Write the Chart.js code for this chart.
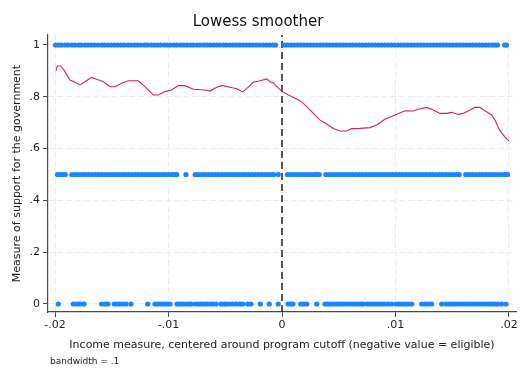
<!DOCTYPE html>
<html>
<head>
<meta charset="utf-8">
<script src="https://cdn.jsdelivr.net/npm/chart.js@4.4.1/dist/chart.umd.min.js"></script>
<style>
  html, body { margin: 0; padding: 0; background: #fff; }
  #wrap { width: 528px; height: 384px; position: relative; }
</style>
</head>
<body>
<div id="wrap"><canvas id="lowessChart"></canvas></div>
<script>
// --- data ---
const X_TICKS = [-0.02, -0.01, 0, 0.01, 0.02];
const Y_TICKS = [0, 0.2, 0.4, 0.6, 0.8, 1];
const X_RANGE = [-0.020617, 0.020617];
const Y_RANGE = [-0.0309, 1.0386];
const CUTOFF_X = [0, 0];

// outcome = 1
const supportX1 = [
  -0.01995, -0.01968, -0.01941, -0.01910, -0.01884, -0.01852, -0.01825, -0.01793, -0.01768, -0.01736,
  -0.01709, -0.01680, -0.01651, -0.01622, -0.01590, -0.01564, -0.01533, -0.01505, -0.01474, -0.01447,
  -0.01418, -0.01389, -0.01357, -0.01331, -0.01300, -0.01272, -0.01243, -0.01212, -0.01186, -0.01154,
  -0.01127, -0.01098, -0.01069, -0.01038, -0.01011, -0.00982, -0.00951, -0.00925, -0.00894, -0.00866,
  -0.00837, -0.00806, -0.00780, -0.00749, -0.00721, -0.00690, -0.00663, -0.00634, -0.00604, -0.00575,
  -0.00547, -0.00516, -0.00489, -0.00459, -0.00430, -0.00401, -0.00372, -0.00343, -0.00313, -0.00285,
  -0.00256, -0.00226, -0.00198, -0.00168, -0.00140, -0.00111, -0.00082, -0.00057,
  0.00022, 0.00050, 0.00079, 0.00107, 0.00136, 0.00164, 0.00193, 0.00222, 0.00250, 0.00279,
  0.00307, 0.00336, 0.00364, 0.00393, 0.00421, 0.00450, 0.00479, 0.00507, 0.00536, 0.00564,
  0.00593, 0.00621, 0.00650, 0.00679, 0.00707, 0.00736, 0.00764, 0.00793, 0.00821, 0.00850,
  0.00879, 0.00907, 0.00936, 0.00964, 0.00993, 0.01021, 0.01050, 0.01079, 0.01107, 0.01136,
  0.01164, 0.01193, 0.01221, 0.01250, 0.01279, 0.01307, 0.01336, 0.01364, 0.01393, 0.01421,
  0.01450, 0.01479, 0.01507, 0.01536, 0.01564, 0.01593, 0.01621, 0.01650, 0.01679, 0.01707,
  0.01736, 0.01764, 0.01793, 0.01821, 0.01850, 0.01875, 0.01899, 0.01962, 0.01978
];

// outcome = .5
const supportXHalf = [
  -0.01978, -0.01955, -0.01932, -0.01910,
  -0.01852, -0.01823, -0.01794, -0.01764, -0.01735, -0.01705, -0.01676, -0.01646, -0.01617, -0.01588,
  -0.01558, -0.01529, -0.01499, -0.01470, -0.01441, -0.01411, -0.01382, -0.01352, -0.01323, -0.01293,
  -0.01264, -0.01235, -0.01205, -0.01176, -0.01146, -0.01117, -0.01088, -0.01058, -0.01029, -0.00999,
  -0.00970, -0.00948, -0.00927,
  -0.00846,
  -0.00765, -0.00736, -0.00706, -0.00677, -0.00647, -0.00618, -0.00589, -0.00559, -0.00530, -0.00500,
  -0.00471, -0.00442, -0.00412, -0.00383, -0.00353, -0.00324, -0.00295, -0.00265, -0.00236, -0.00206,
  -0.00177, -0.00148, -0.00118, -0.00089, -0.00075, -0.00033,
  0.00048, 0.00077, 0.00107, 0.00136, 0.00166, 0.00195, 0.00224, 0.00254, 0.00283, 0.00306, 0.00328,
  0.00386, 0.00415, 0.00445, 0.00474, 0.00504, 0.00533, 0.00563, 0.00592, 0.00621, 0.00651,
  0.00680, 0.00710, 0.00739, 0.00769, 0.00798, 0.00827, 0.00857, 0.00886, 0.00916, 0.00945,
  0.00975, 0.01004, 0.01033, 0.01063, 0.01092, 0.01122, 0.01151, 0.01181, 0.01210, 0.01239,
  0.01269, 0.01298, 0.01328, 0.01357, 0.01387, 0.01416, 0.01445, 0.01475, 0.01504, 0.01534, 0.01561,
  0.01619, 0.01648, 0.01678, 0.01707, 0.01737, 0.01766, 0.01796, 0.01825, 0.01855, 0.01884,
  0.01913, 0.01943, 0.01966, 0.01987
];

// outcome = 0
const supportX0 = [
  -0.01971, -0.01839, -0.01806, -0.01780, -0.01744, -0.01589, -0.01559, -0.01533, -0.01478, -0.01454,
  -0.01427, -0.01401, -0.01374, -0.01330, -0.01183, -0.01119, -0.01093, -0.01066, -0.01040, -0.01018,
  -0.00987, -0.00925, -0.00899, -0.00872, -0.00846, -0.00819, -0.00802, -0.00767, -0.00740, -0.00714,
  -0.00687, -0.00661, -0.00634, -0.00611, -0.00581, -0.00537, -0.00511, -0.00493, -0.00464, -0.00436,
  -0.00405, -0.00374, -0.00346, -0.00302, -0.00273, -0.00191, -0.00112, -0.00033,
  0.00053, 0.00079, 0.00097, 0.00165, 0.00189, 0.00218, 0.00306, 0.00379, 0.00405, 0.00432,
  0.00458, 0.00485, 0.00511, 0.00537, 0.00564, 0.00590, 0.00617, 0.00643, 0.00670, 0.00696,
  0.00716, 0.00749, 0.00775, 0.00802, 0.00828, 0.00855, 0.00881, 0.00907, 0.00934, 0.00966,
  0.01004, 0.01030, 0.01057, 0.01084, 0.01110, 0.01143, 0.01231, 0.01260, 0.01291, 0.01319,
  0.01407, 0.01445, 0.01471, 0.01498, 0.01524, 0.01551, 0.01577, 0.01604, 0.01630, 0.01656,
  0.01685, 0.01715, 0.01744, 0.01771, 0.01797, 0.01824, 0.01850, 0.01877, 0.01903, 0.01936, 0.01974
];

// lowess curve
const lowessX = [
  -0.01991, -0.01980, -0.01950, -0.01921, -0.01868, -0.01824, -0.01780, -0.01736, -0.01677, -0.01633,
  -0.01574, -0.01515, -0.01471, -0.01412, -0.01354, -0.01266, -0.01207, -0.01134, -0.01090, -0.01031,
  -0.00972, -0.00914, -0.00855, -0.00781, -0.00678, -0.00634, -0.00575, -0.00522, -0.00458, -0.00399,
  -0.00346, -0.00297, -0.00253, -0.00194, -0.00135, -0.00106, -0.00077, -0.00062, 0.00003, 0.00070,
  0.00159, 0.00218, 0.00276, 0.00335, 0.00394, 0.00452, 0.00511, 0.00570, 0.00614, 0.00687,
  0.00775, 0.00834, 0.00907, 0.00996, 0.01084, 0.01157, 0.01201, 0.01275, 0.01333, 0.01392,
  0.01451, 0.01495, 0.01553, 0.01597, 0.01656, 0.01700, 0.01744, 0.01789, 0.01848, 0.01877,
  0.01915, 0.01965, 0.02000
];
const lowessY = [
  0.900, 0.919, 0.919, 0.903, 0.865, 0.856, 0.846, 0.858, 0.875, 0.868,
  0.858, 0.839, 0.839, 0.852, 0.862, 0.862, 0.839, 0.807, 0.807, 0.820,
  0.826, 0.843, 0.843, 0.829, 0.826, 0.822, 0.837, 0.844, 0.837, 0.831,
  0.819, 0.837, 0.856, 0.862, 0.869, 0.858, 0.854, 0.846, 0.820, 0.804,
  0.785, 0.762, 0.736, 0.710, 0.695, 0.678, 0.668, 0.668, 0.677, 0.678,
  0.681, 0.691, 0.713, 0.730, 0.746, 0.745, 0.752, 0.759, 0.749, 0.736,
  0.736, 0.740, 0.732, 0.736, 0.749, 0.759, 0.759, 0.746, 0.730, 0.710,
  0.672, 0.644, 0.629
];

const TITLE = 'Lowess smoother';
const X_LABEL = 'Income measure, centered around program cutoff (negative value = eligible)';
const Y_LABEL = 'Measure of support for the government';
const NOTE = 'bandwidth = .1';

// --- styling ---
const DOT_COLOR = '#1a85ff';
const LINE_COLOR = '#d6215e';
const AXIS_COLOR = '#4a4a4a';
const GRID_COLOR = '#ececec';
const FONT = "'DejaVu Sans', sans-serif";

Chart.defaults.font.family = FONT;
Chart.defaults.color = '#222';

function fmtTick(v) {
  const n = Number(v.toFixed(4));
  if (n === 0) return '0';
  return String(n).replace(/^(-?)0\./, '$1.');
}

const toPts = (xs, y) => xs.map(x => ({ x: x, y: y }));

const notePlugin = {
  id: 'note',
  afterDraw(c) {
    const ctx = c.ctx;
    ctx.save();
    ctx.font = '9px ' + FONT;
    ctx.fillStyle = '#222';
    ctx.textBaseline = 'middle';
    ctx.fillText(NOTE, 50, 362);
    ctx.restore();
  }
};

const dotStyle = {
  type: 'scatter',
  backgroundColor: DOT_COLOR,
  borderWidth: 0,
  pointRadius: 2.6,
  pointHoverRadius: 2.6
};

const ctx = document.getElementById('lowessChart').getContext('2d');
const chart = new Chart(ctx, {
  type: 'scatter',
  data: {
    datasets: [
      Object.assign({ label: 'y=1', data: toPts(supportX1, 1) }, dotStyle),
      Object.assign({ label: 'y=.5', data: toPts(supportXHalf, 0.5) }, dotStyle),
      Object.assign({ label: 'y=0', data: toPts(supportX0, 0) }, dotStyle),
      {
        type: 'line',
        label: 'lowess',
        data: lowessX.map((x, i) => ({ x: x, y: lowessY[i] })),
        borderColor: LINE_COLOR,
        borderWidth: 1.1,
        pointRadius: 0,
        tension: 0,
        fill: false
      },
      {
        type: 'line',
        label: 'cutoff',
        data: [{ x: CUTOFF_X[0], y: Y_RANGE[0] }, { x: CUTOFF_X[1], y: Y_RANGE[1] }],
        borderColor: '#000',
        borderWidth: 1.3,
        borderDash: [7, 4],
        pointRadius: 0,
        fill: false
      }
    ]
  },
  options: {
    responsive: true,
    maintainAspectRatio: false,
    animation: false,
    events: [],
    layout: { padding: { left: 0, right: 12, top: 0, bottom: 32 } },
    plugins: {
      legend: { display: false },
      tooltip: { enabled: false },
      title: {
        display: true,
        text: TITLE,
        color: '#111',
        font: { size: 15, weight: 'normal' },
        padding: { top: 13, bottom: 4 }
      }
    },
    scales: {
      x: {
        type: 'linear',
        min: X_RANGE[0],
        max: X_RANGE[1],
        afterBuildTicks: s => { s.ticks = X_TICKS.map(v => ({ value: v })); },
        afterFit: s => { s.height = 40; },
        ticks: { callback: fmtTick, font: { size: 11 }, color: '#222', padding: 2, maxRotation: 0 },
        grid: { color: GRID_COLOR, tickColor: AXIS_COLOR, tickLength: 5, tickBorderDash: [] },
        border: { color: AXIS_COLOR, width: 1.2, dash: [6, 3] },
        title: { display: true, text: X_LABEL, color: '#222', font: { size: 11 }, padding: { top: 0, bottom: 0 } }
      },
      y: {
        type: 'linear',
        min: Y_RANGE[0],
        max: Y_RANGE[1],
        afterBuildTicks: s => { s.ticks = Y_TICKS.map(v => ({ value: v })); },
        afterFit: s => { s.width = 48; },
        ticks: { callback: fmtTick, font: { size: 11 }, color: '#222', padding: 3 },
        grid: { color: GRID_COLOR, tickColor: AXIS_COLOR, tickLength: 5, tickBorderDash: [] },
        border: { color: AXIS_COLOR, width: 1.2, dash: [6, 3] },
        title: { display: true, text: Y_LABEL, color: '#222', font: { size: 11 }, padding: { top: 11, bottom: 0 } }
      }
    }
  },
  plugins: [notePlugin]
});
</script>
</body>
</html>
